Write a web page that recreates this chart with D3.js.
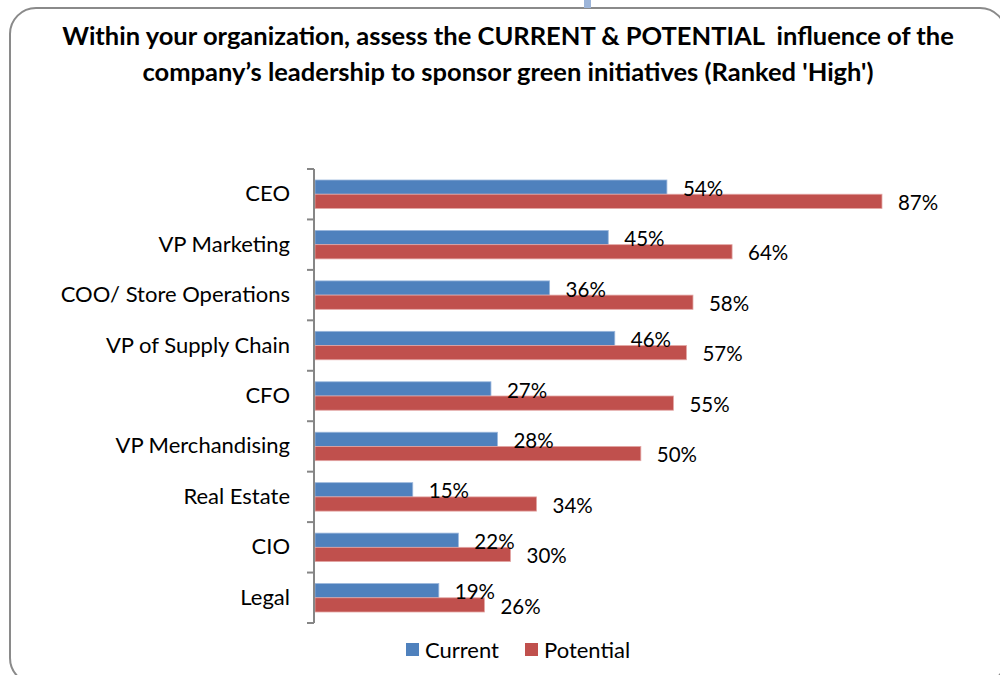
<!DOCTYPE html>
<html>
<head>
<meta charset="utf-8">
<script src="https://cdn.jsdelivr.net/npm/d3@7"></script>
<style>
  body { margin: 0; background: #fff; }
  svg { display: block; }
  text { font-family: Lato, "Open Sans", sans-serif; fill: #000; }
</style>
</head>
<body>
<script>
const categories = ["CEO", "VP Marketing", "COO/ Store Operations", "VP of Supply Chain", "CFO",
  "VP Merchandising", "Real Estate", "CIO", "Legal"];
const current = [54, 45, 36, 46, 27, 28, 15, 22, 19];
const potential = [87, 64, 58, 57, 55, 50, 34, 30, 26];
const seriesNames = ["Current", "Potential"];
const titleLines = ["Within your organization, assess the CURRENT & POTENTIAL  influence of the",
  "company\u2019s leadership to sponsor green initiatives (Ranked 'High')"];

const width = 1000, height = 675;
const colors = ["#4F81BD", "#C0504D"];

const svg = d3.select("body").append("svg")
  .attr("width", width)
  .attr("height", height);

// rounded frame of the slide
svg.append("rect")
  .attr("x", 10).attr("y", 8)
  .attr("width", 996).attr("height", 676)
  .attr("rx", 26).attr("ry", 26)
  .attr("fill", "none")
  .attr("stroke", "#8a8a8a")
  .attr("stroke-width", 2);

// little leftover from the slide header
svg.append("rect")
  .attr("x", 584).attr("y", 0)
  .attr("width", 7).attr("height", 8)
  .attr("fill", "#9db5d9");

// title
const title = svg.append("g");
titleLines.forEach((t, i) => {
  title.append("text")
    .attr("x", 508)
    .attr("y", 45 + i * 36)
    .attr("text-anchor", "middle")
    .attr("font-weight", "bold")
    .attr("font-size", 25.5)
    .attr("xml:space", "preserve")
    .style("white-space", "pre")
    .text(t);
});

const data = categories.map((c, i) => ({ cat: c, values: [current[i], potential[i]] }));

const x = d3.scaleLinear()
  .domain([0, 100])
  .range([315, 966.7]);

const y = d3.scaleBand()
  .domain(categories)
  .range([169, 623]);

const ySub = d3.scaleBand()
  .domain(seriesNames)
  .range([11, y.bandwidth() - 11]);

// bars
const groups = svg.selectAll(".grp")
  .data(data)
  .enter().append("g")
  .attr("class", "grp")
  .attr("transform", d => `translate(0, ${y(d.cat)})`);

groups.selectAll("rect")
  .data(d => d.values.map((v, j) => ({ v, s: seriesNames[j], j })))
  .enter().append("rect")
  .attr("x", x(0))
  .attr("y", d => ySub(d.s))
  .attr("width", d => x(d.v) - x(0))
  .attr("height", ySub.bandwidth())
  .attr("fill", d => colors[d.j])
  .attr("stroke", d => d.j === 0 ? "#9bb7dc" : "#e3a6a4")
  .attr("stroke-width", 0.8);

groups.selectAll(".lbl")
  .data(d => d.values.map((v, j) => ({ v, s: seriesNames[j], j })))
  .enter().append("text")
  .attr("class", "lbl")
  .attr("x", d => x(d.v) + 16)
  .attr("y", d => ySub(d.s) + ySub.bandwidth() / 2 + 1.5)
  .attr("dy", "0.35em")
  .attr("font-size", 20.5)
  .text(d => d.v + "%");

// category axis
const axis = svg.append("g")
  .attr("transform", `translate(${x(0) - 1}, 0)`)
  .call(d3.axisLeft(y).tickSize(0).tickPadding(24));

axis.select(".domain").remove();
axis.selectAll("text")
  .attr("font-size", 22)
  .attr("font-family", "Lato, sans-serif")
  .attr("fill", "#000");

// axis line with between-category ticks
const tickPos = categories.map(c => y(c)).concat([y.range()[1]]);
svg.append("line")
  .attr("x1", x(0) - 1).attr("x2", x(0) - 1)
  .attr("y1", y.range()[0]).attr("y2", y.range()[1])
  .attr("stroke", "#868686").attr("stroke-width", 2);
svg.selectAll(".tk")
  .data(tickPos)
  .enter().append("line")
  .attr("class", "tk")
  .attr("x1", x(0) - 8).attr("x2", x(0) - 1)
  .attr("y1", d => d).attr("y2", d => d)
  .attr("stroke", "#868686").attr("stroke-width", 2);

// legend
const legend = svg.append("g");
const legX = [406, 525];
seriesNames.forEach((s, i) => {
  legend.append("rect")
    .attr("x", legX[i]).attr("y", 643)
    .attr("width", 13).attr("height", 13)
    .attr("fill", colors[i]);
  legend.append("text")
    .attr("x", legX[i] + 19)
    .attr("y", 650)
    .attr("dy", "0.35em")
    .attr("font-size", 22)
    .text(s);
});
</script>
</body>
</html>
